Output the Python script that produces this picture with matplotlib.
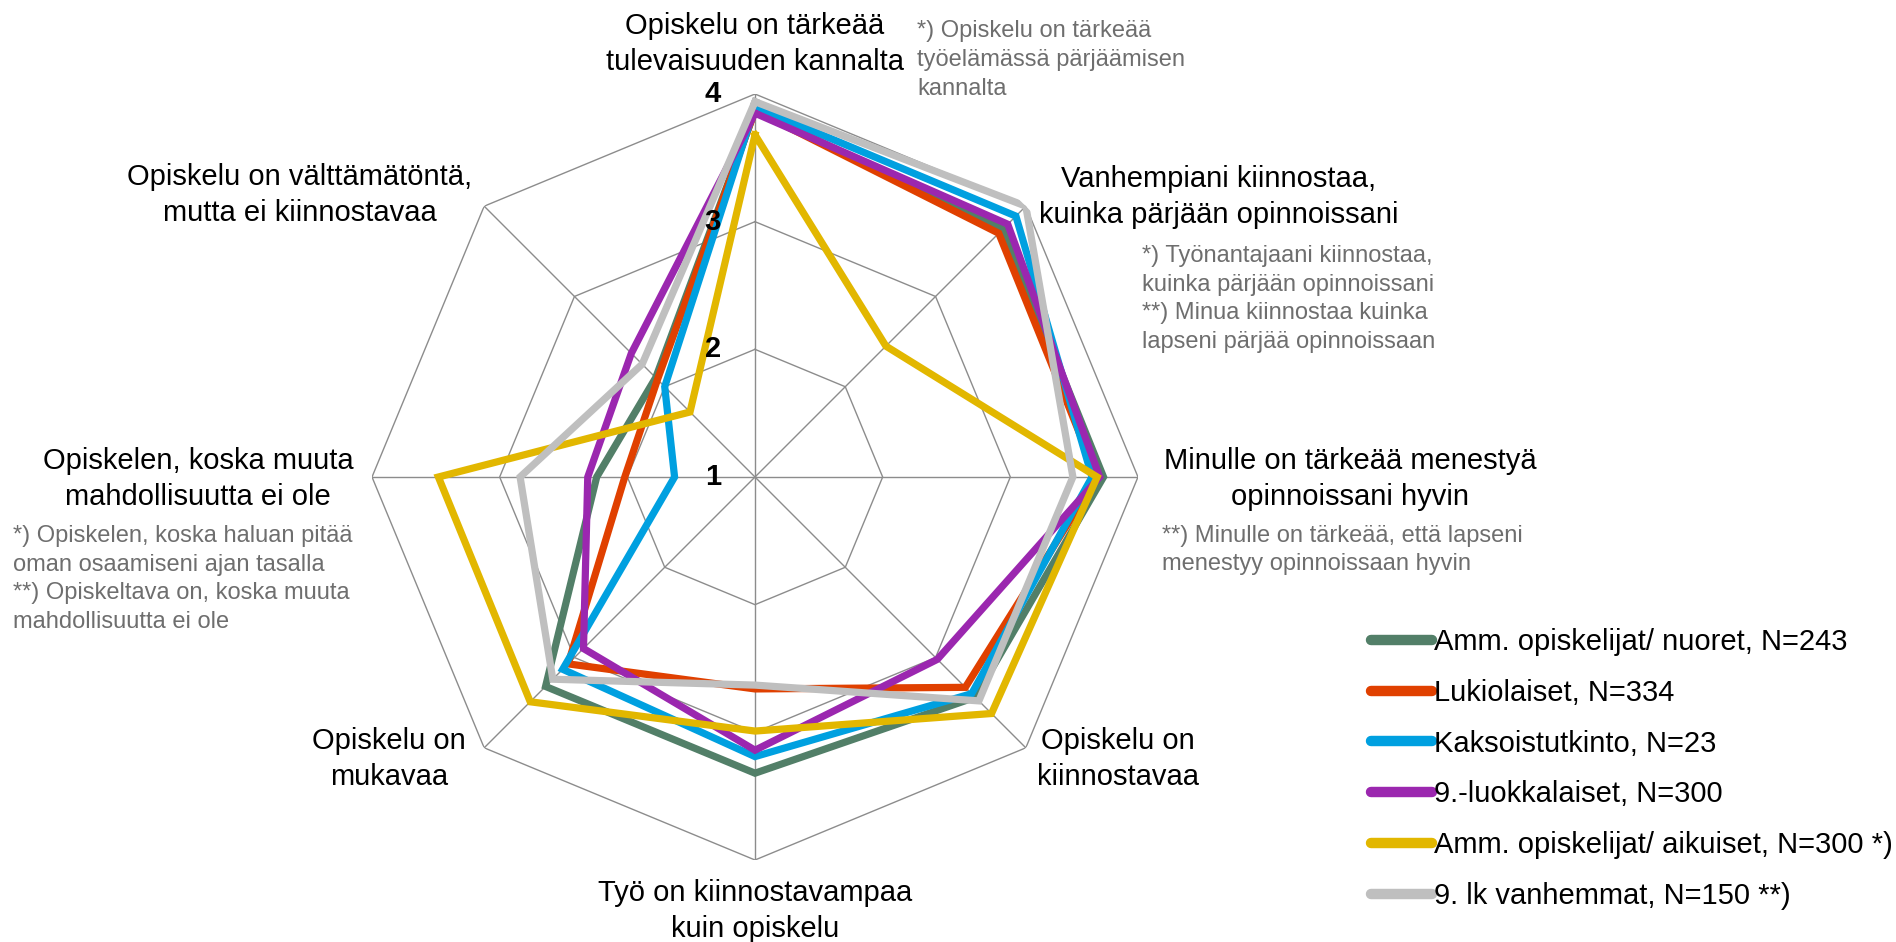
import numpy as np
import matplotlib
matplotlib.use('Agg')
import matplotlib.pyplot as plt
from matplotlib.lines import Line2D

plt.rcParams['font.family'] = ['Liberation Sans', 'DejaVu Sans']

# Väittämät (clockwise from top)
categories = [
    'Opiskelu on tärkeää\ntulevaisuuden kannalta',
    'Vanhempiani kiinnostaa,\nkuinka pärjään opinnoissani',
    'Minulle on tärkeää menestyä\nopinnoissani hyvin',
    'Opiskelu on\nkiinnostavaa',
    'Työ on kiinnostavampaa\nkuin opiskelu',
    'Opiskelu on\nmukavaa',
    'Opiskelen, koska muuta\nmahdollisuutta ei ole',
    'Opiskelu on välttämätöntä,\nmutta ei kiinnostavaa',
]

# keskiarvot per ryhmä
amm_nuoret = [3.87, 3.75, 3.73, 3.44, 3.32, 3.32, 2.24, 2.10]
lukiolaiset = [3.87, 3.70, 3.68, 3.33, 2.66, 3.07, 2.02, 2.08]
kaksoistutkinto = [3.90, 3.89, 3.64, 3.40, 3.19, 3.13, 1.63, 2.00]
luokka9 = [3.85, 3.80, 3.70, 3.02, 3.14, 2.90, 2.31, 2.37]
amm_aikuiset = [3.68, 2.45, 3.68, 3.62, 2.99, 3.49, 3.48, 1.72]
vanhemmat9 = [3.94, 4.00, 3.49, 3.48, 2.63, 3.24, 2.84, 2.25]

series_names = ['Amm. opiskelijat/ nuoret, N=243', 'Lukiolaiset, N=334',
                'Kaksoistutkinto, N=23', '9.-luokkalaiset, N=300',
                'Amm. opiskelijat/ aikuiset, N=300 *)', '9. lk vanhemmat, N=150 **)']
series_values = [amm_nuoret, lukiolaiset, kaksoistutkinto, luokka9, amm_aikuiset, vanhemmat9]
colors = ['#527f68', '#e04000', '#00a0e0', '#9b27af', '#e2b700', '#bfbfbf']

r_ticks = [1, 2, 3, 4]

W, H = 1896, 942
fig = plt.figure(figsize=(W / 100, H / 100), dpi=100)

def fx(px):
    return px / W

def fy(py):
    return 1 - py / H

# polar axes: centre (755, 477), radius 383 px
ax = fig.add_axes([fx(372), fy(477 + 383), 766 / W, 766 / H], projection='polar')
ax.set_theta_zero_location('N')
ax.set_theta_direction(-1)
ax.set_rlim(1, 4)
ax.grid(False)
ax.spines['polar'].set_visible(False)
ax.set_xticks([])
ax.set_yticks([])
ax.patch.set_alpha(0)

n = len(categories)
theta = np.arange(n) * 2 * np.pi / n
theta_c = np.append(theta, theta[0])

grid_col = '#8c8c8c'
for r in r_ticks[1:]:
    ax.plot(theta_c, [r] * (n + 1), color=grid_col, lw=1.0, zorder=1)
for t in theta:
    ax.plot([t, t], [1, 4], color=grid_col, lw=1.0, zorder=1)

for i, (vals, col) in enumerate(zip(series_values, colors)):
    v = np.append(vals, vals[0])
    ax.plot(theta_c, v, color=col, lw=5.2, solid_joinstyle='miter', zorder=3 + i)

for r in r_ticks:
    ax.annotate(str(r), xy=(0, r), xytext=(-34, 0), textcoords='offset pixels',
                ha='right', va='center', fontsize=21, fontweight='bold', zorder=10)

# category labels
lab_pos = [(755, 44), (1219, 197), (1350, 479), (1118, 759),
           (755, 911), (389, 759), (198, 479), (300, 195)]
for txt, (px, py) in zip(categories, lab_pos):
    fig.text(fx(px), fy(py), txt, ha='center', va='center', fontsize=21,
             color='black', linespacing=1.38)

# footnotes
note_col = '#6e6e6e'
notes = [
    ('*) Opiskelu on tärkeää\ntyöelämässä pärjäämisen\nkannalta', 917, 60),
    ('*) Työnantajaani kiinnostaa,\nkuinka pärjään opinnoissani\n**) Minua kiinnostaa kuinka\nlapseni pärjää opinnoissaan', 1142, 299),
    ('**) Minulle on tärkeää, että lapseni\nmenestyy opinnoissaan hyvin', 1162, 550),
    ('*) Opiskelen, koska haluan pitää\noman osaamiseni ajan tasalla\n**) Opiskeltava on, koska muuta\nmahdollisuutta ei ole', 13, 579),
]
for txt, px, py in notes:
    fig.text(fx(px), fy(py), txt, ha='left', va='center', fontsize=17,
             color=note_col, linespacing=1.4)

handles = [Line2D([], [], color=c, lw=7.5, solid_capstyle='round') for c in colors]
fig.legend(handles, series_names, loc='upper left',
           bbox_to_anchor=(fx(1371), fy(628)), frameon=False, fontsize=21,
           handlelength=2.1, handletextpad=0.05, labelspacing=0.78,
           borderpad=0, borderaxespad=0)

fig.savefig('out.png', dpi=100)
